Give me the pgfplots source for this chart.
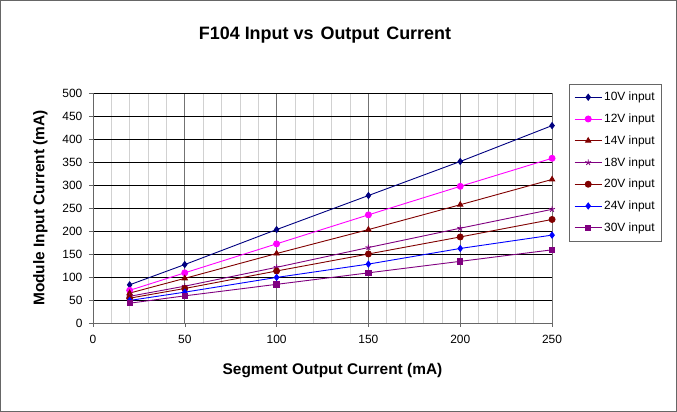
\documentclass[border=0pt]{standalone}
\usepackage{pgfplots}
\pgfplotsset{compat=1.18}
\usepackage{fontspec}
\setmainfont{Liberation Sans}

\definecolor{navy}{RGB}{0,0,128}
\definecolor{mag}{RGB}{255,0,255}
\definecolor{dred}{RGB}{128,0,0}
\definecolor{purp}{RGB}{128,0,128}
\definecolor{blu}{RGB}{0,0,255}

\begin{document}
\begin{tikzpicture}
\draw[black!60, line width=0.8bp, use as bounding box] (0.5bp,0.5bp) rectangle (676.5bp,411.5bp);
\node[font=\bfseries\fontsize{18}{20}\selectfont] at (325bp,377bp) {F104 Input\hspace{5bp}vs\hspace{2bp} Output\hspace{2bp} Current};
\begin{axis}[
    at={(93bp,89bp)}, anchor=south west,
    scale only axis, width=459bp, height=230bp,
    xmin=0, xmax=250, ymin=0, ymax=500,
    xtick={0,50,...,250}, ytick={0,50,...,500},
    minor x tick num=4,
    xmajorgrids, xminorgrids, ymajorgrids,
    x grid style={black!55, line width=0.6bp},
    minor x grid style={black!18, line width=0.6bp},
    y grid style={black, line width=0.6bp},
    axis line style={black!60, line width=0.8bp},
    axis x line*=bottom, axis y line*=left,
    tick align=outside, major tick length=4bp, minor tick length=0pt,
    tick style={black!60},
    ticklabel style={font=\fontsize{12}{13}\selectfont},
    xticklabel style={yshift=-5bp},
    yticklabel style={xshift=-3bp},
    /pgf/number format/assume math mode=true,
    xlabel={\bfseries Segment Output Current (mA)},
    ylabel={\bfseries Module Input Current (mA)},
    label style={font=\fontsize{15.5}{17}\selectfont},
    xlabel style={yshift=-12bp, xshift=10bp},
    ylabel style={yshift=8bp},
    legend style={at={(1.037,1.039)}, anchor=north west, draw=black!60,
        font=\fontsize{12}{13}\selectfont, row sep=7.6bp, inner xsep=5bp, inner ysep=6bp},
    legend image code/.code={\draw[mark repeat=2,mark phase=2] plot coordinates {(0bp,0bp) (13.5bp,0bp) (27bp,0bp)};},
    legend cell align=left,
    every axis plot/.append style={line width=0.9bp},
]
\addplot[navy, mark=diamond*, mark size=3bp] coordinates {(20,83) (50,127) (100,203) (150,277) (200,351) (250,429)};
\addlegendentry{10V input}
\addplot[mag, mark=*, mark size=3bp] coordinates {(20,71) (50,109) (100,172) (150,235) (200,297) (250,358)};
\addlegendentry{12V input}
\addplot[dred, mark=triangle*, mark size=3bp] coordinates {(20,65) (50,97) (100,151) (150,203) (200,257) (250,312)};
\addlegendentry{14V input}
\addplot[purp, mark=star, mark size=3bp] coordinates {(20,58) (50,80) (100,121) (150,164) (200,206) (250,247)};
\addlegendentry{18V input}
\addplot[dred, mark=*, mark size=3bp] coordinates {(20,54) (50,75) (100,113) (150,150) (200,187) (250,225)};
\addlegendentry{20V input}
\addplot[blu, mark=diamond*, mark size=3bp] coordinates {(20,49) (50,67) (100,99) (150,128) (200,162) (250,191)};
\addlegendentry{24V input}
\addplot[purp, mark=square*, mark size=2.7bp] coordinates {(20,43) (50,59) (100,84) (150,109) (200,134) (250,159)};
\addlegendentry{30V input}
\end{axis}
\end{tikzpicture}
\end{document}
